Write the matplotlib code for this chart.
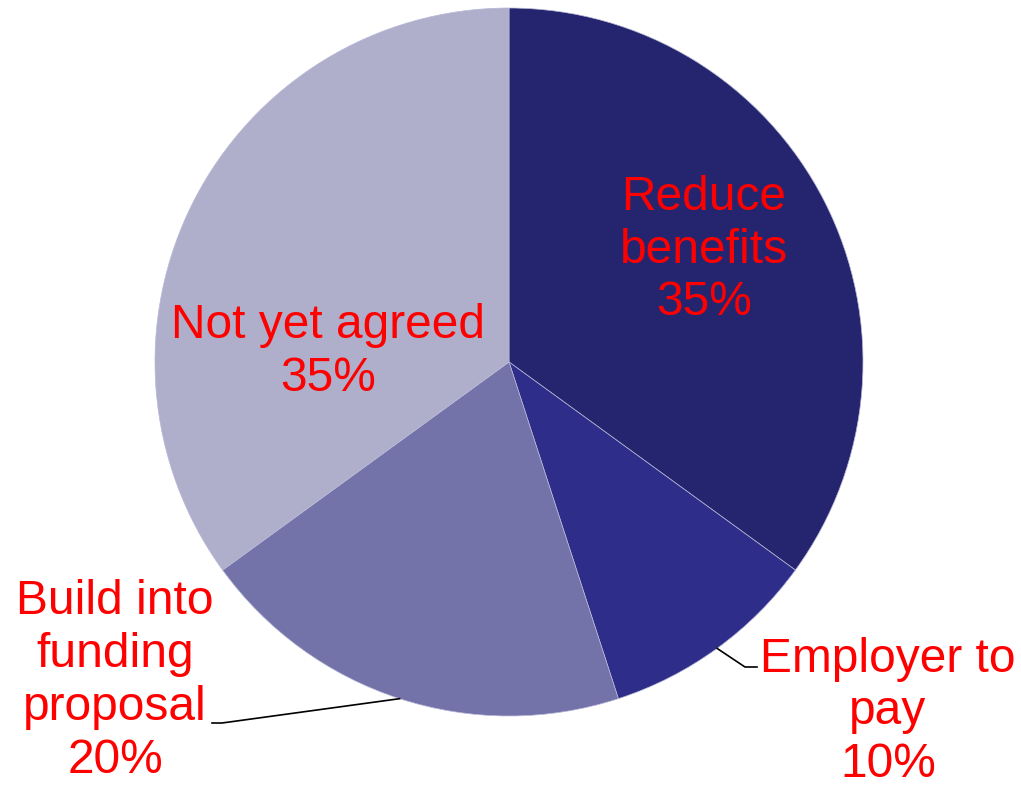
import numpy as np
import matplotlib
matplotlib.use("Agg")
import matplotlib.pyplot as plt

labels = ["Reduce\nbenefits", "Employer to\npay", "Build into\nfunding\nproposal", "Not yet agreed"]
shares = [35, 10, 20, 35]
colors = ["#25256F", "#2E2E8A", "#7373AA", "#AFAFCB"]

W, H = 1021, 789
cx, cy, r = 509, H - 362, 354

fig = plt.figure(figsize=(W / 100, H / 100), dpi=100)
ax = fig.add_axes([0, 0, 1, 1])
wedges, _ = ax.pie(shares, colors=colors, startangle=90, counterclock=False,
                   center=(cx, cy), radius=r, frame=True,
                   wedgeprops=dict(edgecolor="#B8B8D8", linewidth=0.5))
ax.set_xlim(0, W)
ax.set_ylim(0, H)
ax.set_aspect("equal")
ax.axis("off")

font = dict(color="red", fontsize=34.5, family=["Liberation Sans", "DejaVu Sans"],
            ha="center", va="center", linespacing=1.22)

# label centres (pixels from top-left)
pos = [(704, 250), (888, 712), (115, 681), (328, 352)]
for lab, v, (x, y) in zip(labels, shares, pos):
    ax.text(x, H - y, f"{lab}\n{v}%", **font)

# leader lines for the two small outer labels
ends = {1: [(745, 667), (757, 667)], 2: [(222, 723), (212, 723)]}
for i, pts in ends.items():
    w = wedges[i]
    mid = np.deg2rad((w.theta1 + w.theta2) / 2)
    x0, y0 = cx + r * np.cos(mid), cy + r * np.sin(mid)
    xs = [x0] + [p[0] for p in pts]
    ys = [y0] + [H - p[1] for p in pts]
    ax.plot(xs, ys, color="black", lw=1.2)

fig.savefig("out.png", dpi=100)
